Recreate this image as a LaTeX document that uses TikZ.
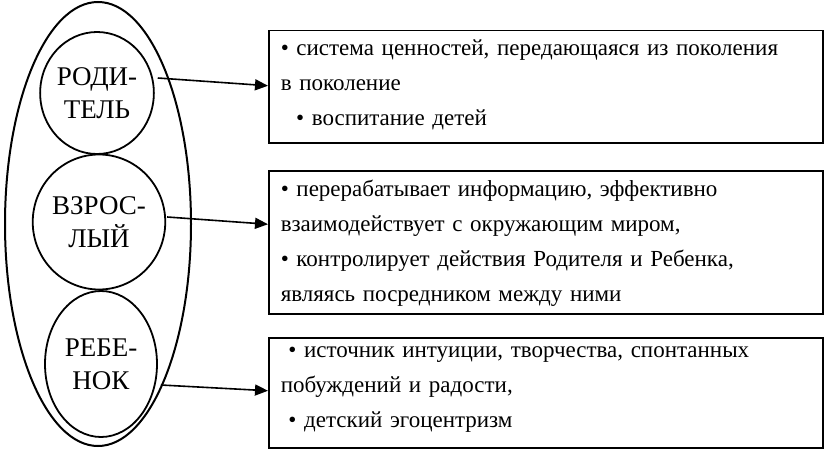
\documentclass[tikz,border=0pt]{standalone}
\usepackage{fontspec}
\setmainfont{Liberation Serif}
\usetikzlibrary{arrows.meta,shapes.geometric}
\tikzset{
  role/.style={draw=black, line width=1.8pt, shape=ellipse, inner sep=0pt, align=center, font=\fontsize{27}{33}\selectfont},
  infobox/.style={draw=black, line width=1.5pt, anchor=north west, align=left, inner sep=0pt, font=\fontsize{23}{35}\selectfont},
  link/.style={line width=1.6pt, -{Triangle[length=13pt,width=11pt]}}
}
\begin{document}
\begin{tikzpicture}[x=1pt,y=-1pt]
	\useasboundingbox (0,0) rectangle (832,452);
	\draw [line width=2pt] (98,224) ellipse [x radius=93, y radius=222];

	\node [role, minimum width=110pt, minimum height=122pt] (par) at (97,93) {РОДИ-\\ТЕЛЬ};
	\node [role, minimum width=118pt, minimum height=135pt] (adu) at (99,222) {ВЗРОС-\\ЛЫЙ};
	\node [role, minimum width=112pt, minimum height=146pt] (chi) at (101,364) {РЕБЕ-\\НОК};

	\node [infobox, minimum width=554pt, minimum height=112pt] (b1) at (268,30) {};
	\node [infobox, minimum width=554pt, minimum height=143pt] (b2) at (268,170) {};
	\node [infobox, minimum width=554pt, minimum height=110pt] (b3) at (268,337) {};

	\node [infobox, draw=none, text width=540pt] (t1) at ([xshift=12pt,yshift=-9pt]b1.north west) {• система ценностей, передающаяся из поколения\\в поколение\\\ \ • воспитание детей};
	\node [infobox, draw=none, text width=540pt] (t2) at ([xshift=12pt,yshift=-9pt]b2.north west) {• перерабатывает информацию, эффективно\\взаимодействует с окружающим миром,\\• контролирует действия Родителя и Ребенка,\\являясь посредником между ними};
	\node [infobox, draw=none, text width=540pt] (t3) at ([xshift=12pt,yshift=-9pt]b3.north west) {\ • источник интуиции, творчества, спонтанных\\побуждений и радости,\\\ • детский эгоцентризм};

	\draw [link] ([xshift=3pt,yshift=15pt]par.east) to ([yshift=1pt]b1.west);
	\draw [link] ([xshift=1pt,yshift=5pt]adu.east) to ([yshift=18pt]b2.west);
	\draw [link] ([xshift=3pt,yshift=-21pt]chi.east) to ([yshift=2pt]b3.west);
\end{tikzpicture}
\end{document}
